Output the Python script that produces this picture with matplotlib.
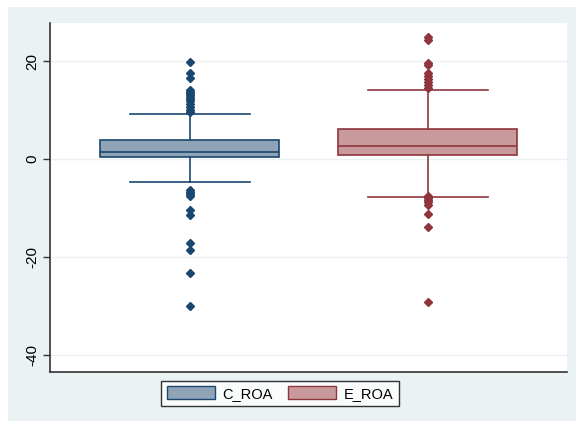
import matplotlib
matplotlib.use("Agg")
import matplotlib.pyplot as plt
from matplotlib.patches import Rectangle, Patch

plt.rcParams["font.family"] = ["Liberation Sans", "DejaVu Sans"]

# ---- data ----
labels = ["C_ROA", "E_ROA"]
q1 = [0.4, 0.8]
med = [1.5, 2.6]
q3 = [3.9, 6.1]
whislo = [-4.6, -7.8]
whishi = [9.2, 14.1]
outliers_c = [19.8, 17.6, 16.6, 14.2, 13.8, 13.4, 13.0, 12.6, 12.2, 11.8, 11.2, 10.6, 10.1, 9.7,
              -6.4, -6.8, -7.2, -7.6, -10.4, -11.4, -17.1, -18.5, -23.3, -30.1]
outliers_e = [24.9, 24.4, 19.6, 19.2, 17.6, 17.0, 16.4, 15.8, 15.2, 14.6,
              -7.6, -8.0, -8.4, -8.8, -9.3, -11.2, -13.9, -29.2]
outliers = [outliers_c, outliers_e]
yticks = [-40, -20, 0, 20]

edge_colors = ["#1A476F", "#90353B"]
fill_colors = ["#90A4B7", "#C99A9C"]
bg = "#EAF2F3"

fig = plt.figure(figsize=(5.76, 4.21), dpi=100)
fig.patch.set_facecolor("white")
fig.patches.append(Rectangle((8/576, 0), 1 - 8/576, 1 - 7/421, transform=fig.transFigure,
                             facecolor=bg, edgecolor="none", zorder=-10))

ax = fig.add_axes([50/576, 1 - 372/421, (567 - 50)/576, (372 - 23)/421])
ax.set_facecolor("white")

positions = [1, 2]
for i in range(2):
    stats = [dict(med=med[i], q1=q1[i], q3=q3[i], whislo=whislo[i], whishi=whishi[i],
                  fliers=outliers[i], label=labels[i])]
    ax.bxp(stats, positions=[positions[i]], widths=0.752, patch_artist=True,
           showcaps=True, zorder=3,
           boxprops=dict(facecolor=fill_colors[i], edgecolor=edge_colors[i], linewidth=1.2),
           medianprops=dict(color=edge_colors[i], linewidth=1.2),
           whiskerprops=dict(color=edge_colors[i], linewidth=1.2),
           capprops=dict(color=edge_colors[i], linewidth=1.2),
           flierprops=dict(marker="D", markersize=4.2, markerfacecolor=edge_colors[i],
                           markeredgecolor=edge_colors[i]))

# cap widths
for line in ax.lines:
    xd = line.get_xdata()
    if len(xd) == 2 and xd[0] != xd[1]:
        y = line.get_ydata()
        if y[0] == y[1] and (y[0] in whislo or y[0] in whishi):
            c = (xd[0] + xd[1]) / 2
            line.set_xdata([c - 0.252, c + 0.252])

ax.set_xlim(0.412, 2.584)
ax.set_ylim(-43.5, 27.8)
ax.set_yticks(yticks)
ax.set_yticklabels([str(t) for t in yticks], rotation=90, va="center", fontsize=11)
ax.set_xticks([])
ax.grid(axis="y", color=bg, linewidth=1.0, zorder=0)
ax.set_axisbelow(True)
for s in ["top", "right"]:
    ax.spines[s].set_visible(False)
for s in ["left", "bottom"]:
    ax.spines[s].set_color("#333333")
    ax.spines[s].set_linewidth(1.2)
ax.tick_params(axis="y", length=5, width=1, color="#333333", pad=3)

handles = [Patch(facecolor=fill_colors[i], edgecolor=edge_colors[i], label=labels[i]) for i in range(2)]
leg = fig.legend(handles=handles, loc="center", bbox_to_anchor=(280/576, 1 - 393.5/421), ncol=2,
                 frameon=True, fancybox=False, fontsize=10.5, handlelength=3.3, handleheight=0.9,
                 columnspacing=1.0, borderpad=0.4, handletextpad=0.55, borderaxespad=0)
leg.get_frame().set_edgecolor("black")
leg.get_frame().set_linewidth(1.0)
leg.get_frame().set_facecolor("white")

fig.savefig("out.png", dpi=100)
